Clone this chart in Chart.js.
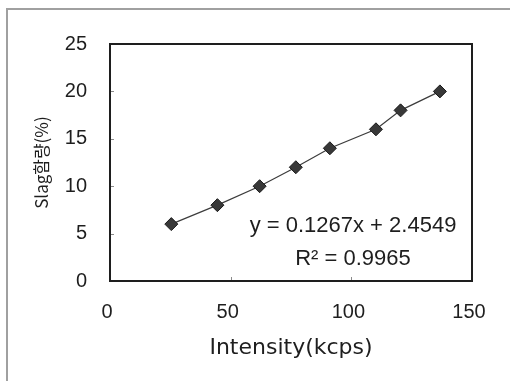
<!DOCTYPE html>
<html>
<head>
<meta charset="utf-8">
<script src="https://cdn.jsdelivr.net/npm/chart.js@4/dist/chart.umd.min.js"></script>
<style>
    html, body { margin: 0; padding: 0; background: #ffffff; }
    canvas { display: block; }
</style>
</head>
<body>
<canvas id="slagChart" width="510" height="381"></canvas>
<script>

// ==========================
// DATA
// Slag content vs XRF intensity
// ==========================
const intensity = [25.4, 44.5, 62.0, 77.0, 91.1, 110.2, 120.4, 136.7];
const slagContent = [6, 8, 10, 12, 14, 16, 18, 20];

const xTicks = [0, 50, 100, 150];
const yTicks = [0, 5, 10, 15, 20, 25];

const xTitle = "Intensity(kcps)";
const yTitle = "Slag함량(%)";

const equationLines = ["y = 0.1267x + 2.4549", "R² = 0.9965"];

const points = intensity.map((x, i) => ({ x: x, y: slagContent[i] }));

// ==========================
// PLUGIN
// paper frame, plot box, inner ticks, equation
// ==========================
const framePlugin = {

    id: "frame",

    beforeDraw: function (chart) {

        const ctx = chart.ctx;

        ctx.save();
        ctx.fillStyle = "#ffffff";
        ctx.fillRect(0, 0, chart.width, chart.height);

        // outer grey frame (left + top only visible)
        ctx.strokeStyle = "#a0a0a0";
        ctx.lineWidth = 2;
        ctx.beginPath();
        ctx.moveTo(7, chart.height + 5);
        ctx.lineTo(7, 9);
        ctx.lineTo(chart.width + 5, 9);
        ctx.stroke();
        ctx.restore();

    },

    afterDatasetsDraw: function (chart) {

        const ctx = chart.ctx;
        const area = chart.chartArea;
        const xs = chart.scales.x;
        const ys = chart.scales.y;

        ctx.save();

        // small inward tick marks
        ctx.strokeStyle = "#8a8a8a";
        ctx.lineWidth = 1;
        ctx.beginPath();
        yTicks.slice(1, -1).forEach(v => {
            const py = Math.round(ys.getPixelForValue(v)) + 0.5;
            ctx.moveTo(area.left, py);
            ctx.lineTo(area.left + 4, py);
        });
        xTicks.slice(1, -1).forEach(v => {
            const px = Math.round(xs.getPixelForValue(v)) + 0.5;
            ctx.moveTo(px, area.bottom);
            ctx.lineTo(px, area.bottom - 4);
        });
        ctx.stroke();

        // plot box
        ctx.strokeStyle = "#1e1e1e";
        ctx.lineWidth = 2;
        ctx.strokeRect(area.left, area.top, area.right - area.left, area.bottom - area.top);

        // regression equation
        ctx.fillStyle = "#1e1e1e";
        ctx.font = "22px 'Liberation Sans', Arial, sans-serif";
        ctx.textAlign = "center";
        ctx.textBaseline = "middle";
        ctx.fillText(equationLines[0], 353, 226);
        ctx.fillText(equationLines[1], 353, 259);

        ctx.restore();

    }

};

// ==========================
// SCATTER CHART
// ==========================
new Chart(document.getElementById("slagChart"), {

    type: "scatter",

    data: {

        datasets: [{

            label: "Slag",

            data: points,

            showLine: true,

            borderColor: "#3c3c3c",

            borderWidth: 1.2,

            pointStyle: "rectRot",

            pointRadius: 6.5,

            pointBackgroundColor: "#383838",

            pointBorderColor: "#1a1a1a",

            pointBorderWidth: 1

        }]

    },

    options: {

        responsive: false,

        animation: false,

        layout: {
            padding: { left: 0, right: 38, top: 44, bottom: 0 }
        },

        scales: {

            x: {
                type: "linear",
                min: xTicks[0],
                max: xTicks[xTicks.length - 1],
                afterFit: function (scale) { scale.height = 100; },
                ticks: {
                    stepSize: xTicks[1] - xTicks[0],
                    padding: 19,
                    labelOffset: -3,
                    color: "#1e1e1e",
                    maxRotation: 0,
                    font: { family: "'Liberation Sans', Arial, sans-serif", size: 20 }
                },
                grid: { display: false, drawTicks: false },
                border: { display: false },
                title: {
                    display: true,
                    text: xTitle,
                    color: "#1e1e1e",
                    padding: { top: 0, bottom: 20 },
                    font: { family: "'DejaVu Sans', sans-serif", size: 22 }
                }
            },

            y: {
                type: "linear",
                min: yTicks[0],
                max: yTicks[yTicks.length - 1],
                afterFit: function (scale) { scale.width = 110; },
                ticks: {
                    stepSize: yTicks[1] - yTicks[0],
                    padding: 23,
                    color: "#1e1e1e",
                    font: { family: "'Liberation Sans', Arial, sans-serif", size: 20 }
                },
                grid: { display: false, drawTicks: false },
                border: { display: false },
                title: {
                    display: true,
                    text: yTitle,
                    color: "#1e1e1e",
                    padding: { top: 31, bottom: 0 },
                    font: { family: "'Noto Sans CJK KR', sans-serif", size: 17 }
                }
            }

        },

        plugins: {
            legend: { display: false },
            tooltip: { enabled: false }
        }

    },

    plugins: [framePlugin]

});

</script>
</body>
</html>
